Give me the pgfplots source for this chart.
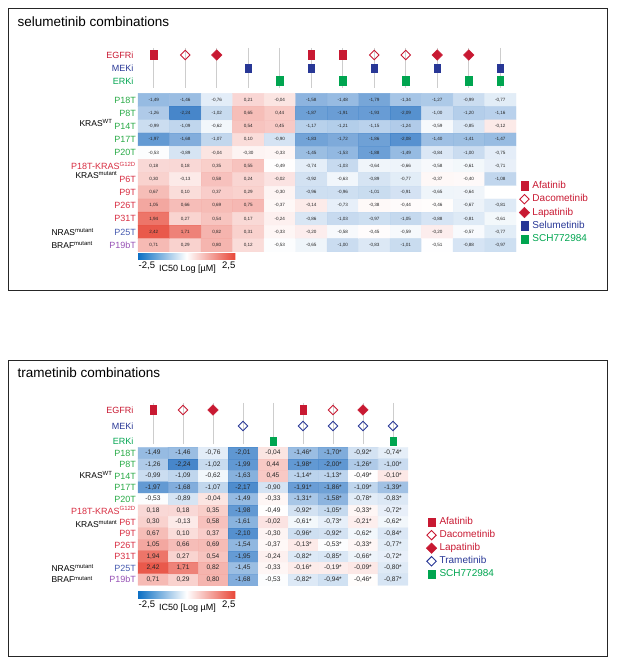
\documentclass[border=0pt]{standalone}
\usepackage{fontspec}
\setmainfont{Liberation Sans}
\usepackage{pgfplots}
\pgfplotsset{compat=1.18}
\usepackage{pgfplotstable}

\definecolor{egfr}{RGB}{200,25,50}
\definecolor{mek}{RGB}{40,55,150}
\definecolor{erk}{RGB}{0,165,80}
\definecolor{wtg}{RGB}{40,170,70}
\definecolor{mut}{RGB}{215,45,65}
\definecolor{nras}{RGB}{70,90,175}
\definecolor{braf}{RGB}{150,80,180}
\definecolor{stem}{RGB}{205,205,205}

\newcommand\fs[1]{\fontsize{#1}{#1}\selectfont}
\newcommand\wt[1]{\textcolor{wtg}{#1}}
\newcommand\mt[1]{\textcolor{mut}{#1}}

\pgfplotsset{
  colormap={ic}{rgb255(0cm)=(25,105,190); rgb255(2cm)=(255,255,255); rgb255(5cm)=(230,70,55)},
  colormap={icbar}{rgb255(0cm)=(10,110,195); rgb255(1cm)=(255,255,255); rgb255(2cm)=(232,70,55)},
  rectmark/.style={only marks, mark=square*, mark size=4.3pt, mark options={xscale=0.76, draw=#1, fill=#1}},
  opendia/.style={only marks, mark=square, mark size=3.3pt, mark options={rotate=45, draw=#1, fill=white, line width=0.9pt}},
  filldia/.style={only marks, mark=square*, mark size=3.7pt, mark options={rotate=45, draw=#1, fill=#1}},
  heatbase/.style={
    scale only axis,
    ymin=0.5, ymax=12.5, y dir=reverse, clip=false,
    axis line style={draw=none}, major tick length=0pt, xtick=\empty,
    ytick={1,...,12}, yticklabel style={font=\fs{9}, inner xsep=2pt},
    colormap name=ic, point meta min=-2.5, point meta max=2.5,
    /pgf/number format/use comma, /pgf/number format/fixed,
    /pgf/number format/fixed zerofill, /pgf/number format/precision=2,
    /pgf/number format/assume math mode=true,
    legend style={draw=none, fill=none, font=\fs{10}, inner sep=0pt,
      nodes={inner ysep=0.6pt, inner xsep=2.8pt, text height=7.2pt, text depth=2pt},
      cells={anchor=west}},
  },
}

% selumetinib panel: x = combination column, y = tumour row, v = log IC50
\pgfplotstableread[row sep=\\]{
x y v\\
1 1 -1.49\\ 2 1 -1.46\\ 3 1 -0.76\\ 4 1 0.21\\ 5 1 -0.04\\ 6 1 -1.58\\ 7 1 -1.48\\ 8 1 -1.79\\ 9 1 -1.34\\ 10 1 -1.27\\ 11 1 -0.99\\ 12 1 -0.77\\
1 2 -1.26\\ 2 2 -2.24\\ 3 2 -1.02\\ 4 2 0.65\\ 5 2 0.44\\ 6 2 -1.87\\ 7 2 -1.91\\ 8 2 -1.93\\ 9 2 -2.09\\ 10 2 -1.00\\ 11 2 -1.20\\ 12 2 -1.16\\
1 3 -0.99\\ 2 3 -1.09\\ 3 3 -0.62\\ 4 3 0.54\\ 5 3 0.45\\ 6 3 -1.17\\ 7 3 -1.21\\ 8 3 -1.15\\ 9 3 -1.24\\ 10 3 -0.59\\ 11 3 -0.85\\ 12 3 -0.12\\
1 4 -1.97\\ 2 4 -1.68\\ 3 4 -1.07\\ 4 4 0.10\\ 5 4 -0.90\\ 6 4 -1.83\\ 7 4 -1.72\\ 8 4 -1.86\\ 9 4 -2.08\\ 10 4 -1.40\\ 11 4 -1.41\\ 12 4 -1.47\\
1 5 -0.53\\ 2 5 -0.89\\ 3 5 -0.04\\ 4 5 -0.30\\ 5 5 -0.33\\ 6 5 -1.45\\ 7 5 -1.53\\ 8 5 -1.88\\ 9 5 -1.49\\ 10 5 -0.84\\ 11 5 -1.00\\ 12 5 -0.75\\
1 6 0.18\\ 2 6 0.18\\ 3 6 0.35\\ 4 6 0.55\\ 5 6 -0.49\\ 6 6 -0.74\\ 7 6 -1.03\\ 8 6 -0.64\\ 9 6 -0.66\\ 10 6 -0.58\\ 11 6 -0.61\\ 12 6 -0.71\\
1 7 0.30\\ 2 7 -0.13\\ 3 7 0.58\\ 4 7 0.24\\ 5 7 -0.02\\ 6 7 -0.92\\ 7 7 -0.63\\ 8 7 -0.89\\ 9 7 -0.77\\ 10 7 -0.37\\ 11 7 -0.40\\ 12 7 -1.08\\
1 8 0.67\\ 2 8 0.10\\ 3 8 0.37\\ 4 8 0.29\\ 5 8 -0.30\\ 6 8 -0.96\\ 7 8 -0.96\\ 8 8 -1.01\\ 9 8 -0.91\\ 10 8 -0.65\\ 11 8 -0.64\\ 12 8 -0.50\\
1 9 1.05\\ 2 9 0.66\\ 3 9 0.69\\ 4 9 0.75\\ 5 9 -0.37\\ 6 9 -0.14\\ 7 9 -0.73\\ 8 9 -0.38\\ 9 9 -0.44\\ 10 9 -0.46\\ 11 9 -0.67\\ 12 9 -0.81\\
1 10 1.94\\ 2 10 0.27\\ 3 10 0.54\\ 4 10 0.17\\ 5 10 -0.24\\ 6 10 -0.86\\ 7 10 -1.03\\ 8 10 -0.97\\ 9 10 -1.05\\ 10 10 -0.88\\ 11 10 -0.81\\ 12 10 -0.61\\
1 11 2.42\\ 2 11 1.71\\ 3 11 0.82\\ 4 11 0.31\\ 5 11 -0.33\\ 6 11 -0.20\\ 7 11 -0.58\\ 8 11 -0.45\\ 9 11 -0.59\\ 10 11 -0.20\\ 11 11 -0.57\\ 12 11 -0.77\\
1 12 0.71\\ 2 12 0.29\\ 3 12 0.80\\ 4 12 0.12\\ 5 12 -0.53\\ 6 12 -0.65\\ 7 12 -1.00\\ 8 12 -0.83\\ 9 12 -1.01\\ 10 12 -0.51\\ 11 12 -0.88\\ 12 12 -0.97\\
}\selu

% trametinib panel
\pgfplotstableread[row sep=\\]{
x y v\\
1 1 -1.49\\ 2 1 -1.46\\ 3 1 -0.76\\ 4 1 -2.01\\ 5 1 -0.04\\ 6 1 -1.46\\ 7 1 -1.70\\ 8 1 -0.92\\ 9 1 -0.74\\
1 2 -1.26\\ 2 2 -2.24\\ 3 2 -1.02\\ 4 2 -1.99\\ 5 2 0.44\\ 6 2 -1.98\\ 7 2 -2.00\\ 8 2 -1.26\\ 9 2 -1.00\\
1 3 -0.99\\ 2 3 -1.09\\ 3 3 -0.62\\ 4 3 -1.63\\ 5 3 0.45\\ 6 3 -1.14\\ 7 3 -1.13\\ 8 3 -0.49\\ 9 3 -0.10\\
1 4 -1.97\\ 2 4 -1.68\\ 3 4 -1.07\\ 4 4 -2.17\\ 5 4 -0.90\\ 6 4 -1.91\\ 7 4 -1.86\\ 8 4 -1.09\\ 9 4 -1.39\\
1 5 -0.53\\ 2 5 -0.89\\ 3 5 -0.04\\ 4 5 -1.49\\ 5 5 -0.33\\ 6 5 -1.31\\ 7 5 -1.58\\ 8 5 -0.78\\ 9 5 -0.83\\
1 6 0.18\\ 2 6 0.18\\ 3 6 0.35\\ 4 6 -1.98\\ 5 6 -0.49\\ 6 6 -0.92\\ 7 6 -1.05\\ 8 6 -0.33\\ 9 6 -0.72\\
1 7 0.30\\ 2 7 -0.13\\ 3 7 0.58\\ 4 7 -1.61\\ 5 7 -0.02\\ 6 7 -0.61\\ 7 7 -0.73\\ 8 7 -0.21\\ 9 7 -0.62\\
1 8 0.67\\ 2 8 0.10\\ 3 8 0.37\\ 4 8 -2.10\\ 5 8 -0.30\\ 6 8 -0.96\\ 7 8 -0.92\\ 8 8 -0.62\\ 9 8 -0.84\\
1 9 1.05\\ 2 9 0.66\\ 3 9 0.69\\ 4 9 -1.54\\ 5 9 -0.37\\ 6 9 -0.13\\ 7 9 -0.53\\ 8 9 -0.33\\ 9 9 -0.77\\
1 10 1.94\\ 2 10 0.27\\ 3 10 0.54\\ 4 10 -1.95\\ 5 10 -0.24\\ 6 10 -0.82\\ 7 10 -0.85\\ 8 10 -0.66\\ 9 10 -0.72\\
1 11 2.42\\ 2 11 1.71\\ 3 11 0.82\\ 4 11 -1.45\\ 5 11 -0.33\\ 6 11 -0.16\\ 7 11 -0.19\\ 8 11 -0.09\\ 9 11 -0.80\\
1 12 0.71\\ 2 12 0.29\\ 3 12 0.80\\ 4 12 -1.68\\ 5 12 -0.53\\ 6 12 -0.82\\ 7 12 -0.94\\ 8 12 -0.46\\ 9 12 -0.87\\
}\trame

\begin{document}
\begin{tikzpicture}
\useasboundingbox (0,0) rectangle (617pt,657pt);
\draw[line width=0.8pt, black!85] (8pt,367pt) rectangle (607pt,649pt);
\draw[line width=0.8pt, black!85] (8pt,1pt) rectangle (607pt,297pt);
\node[anchor=west, font=\fs{13.5}] at (14pt,635pt) {selumetinib combinations};
\node[anchor=west, font=\fs{13.5}] at (14pt,284pt) {trametinib combinations};

% ---------------- selumetinib ----------------
\begin{axis}[heatbase, name=top, at={(138pt,563.6pt)}, anchor=north west,
  width=378pt, height=158.4pt, xmin=0.5, xmax=12.5,
  yticklabels={\wt{P18T},\wt{P8T},\wt{P14T},\wt{P17T},\wt{P20T},
    \mt{P18T-KRAS\textsuperscript{G12D}},\mt{P6T},\mt{P9T},\mt{P26T},\mt{P31T},
    \textcolor{nras}{P25T},\textcolor{braf}{P19bT}},
  colorbar horizontal,
  colorbar style={name=cbt, at={(parent axis.south west)}, anchor=north west,
    xshift=-0.5pt, yshift=7.2pt, width=98pt, height=6pt, scale only axis,
    xtick=\empty, axis line style={draw=none}, colormap name=icbar},
  legend style={at={(1.008,0.45)}, anchor=north west, row sep=2.9pt},
]
\addplot[matrix plot*, mesh/cols=12, point meta=\thisrow{v}, opacity=0.92, forget plot]
  table[x=x, y=y] {\selu};
\addplot[only marks, mark=none, forget plot, point meta=\thisrow{v},
  nodes near coords, nodes near coords style={font=\fs{4.6}, anchor=center, text=black!85},
  skip coords between index={95}{96}]
  table[x=x, y=y] {\selu};
\pgfplotsinvokeforeach{1,...,12}{
  \addplot[stem, line width=0.9pt, forget plot] coordinates {(#1,-2.94) (#1,0.09)};
}
\addplot[rectmark=egfr, forget plot] coordinates {(1,-2.41) (6,-2.41) (7,-2.41)};
\addplot[opendia=egfr, forget plot] coordinates {(2,-2.41) (8,-2.41) (9,-2.41)};
\addplot[filldia=egfr, forget plot] coordinates {(3,-2.41) (10,-2.41) (11,-2.41)};
\addplot[rectmark=mek, forget plot] coordinates {(4,-1.42) (6,-1.42) (8,-1.42) (10,-1.42) (12,-1.42)};
\addplot[rectmark=erk, forget plot] coordinates {(5,-0.44) (7,-0.44) (9,-0.44) (11,-0.44) (12,-0.44)};
\addlegendimage{rectmark=egfr}\addlegendentry{\textcolor{egfr}{Afatinib}}
\addlegendimage{opendia=egfr}\addlegendentry{\textcolor{egfr}{Dacometinib}}
\addlegendimage{filldia=egfr}\addlegendentry{\textcolor{egfr}{Lapatinib}}
\addlegendimage{rectmark=mek}\addlegendentry{\textcolor{mek}{Selumetinib}}
\addlegendimage{rectmark=erk}\addlegendentry{\textcolor{erk}{SCH772984}}
\node[anchor=east, font=\fs{9}, text=egfr] at (axis cs:0.5,-2.41) [xshift=-1pt] {EGFRi};
\node[anchor=east, font=\fs{9}, text=mek] at (axis cs:0.5,-1.42) [xshift=-1pt] {MEKi};
\node[anchor=east, font=\fs{9}, text=erk] at (axis cs:0.5,-0.44) [xshift=-1pt] {ERKi};
\node[anchor=west, font=\fs{8.5}] at (axis cs:0.5,2.75) [xshift=-62pt] {KRAS\textsuperscript{WT}};
\node[anchor=west, font=\fs{8.5}] at (axis cs:0.5,6.7) [xshift=-66pt] {KRAS\textsuperscript{mutant}};
\node[anchor=west, font=\fs{8.5}] at (axis cs:0.5,11) [xshift=-90pt] {NRAS\textsuperscript{mutant}};
\node[anchor=west, font=\fs{8.5}] at (axis cs:0.5,12) [xshift=-90pt] {BRAF\textsuperscript{mutant}};
\end{axis}
\node[anchor=west, font=\fs{9.5}, inner sep=0pt] at ([xshift=1pt, yshift=-6.5pt]cbt.south west) {-2,5};
\node[anchor=east, font=\fs{9.5}, inner sep=0pt] at ([yshift=-6.5pt]cbt.south east) {2,5};
\node[font=\fs{9}, inner sep=0pt] at ([xshift=50pt, yshift=-10pt]cbt.south west) {IC50 Log [µM]};

% ---------------- trametinib ----------------
\begin{axis}[heatbase, name=bot, at={(138pt,209.75pt)}, anchor=north west,
  width=270pt, height=138pt, xmin=0.5, xmax=9.5,
  yticklabels={\wt{P18T},\wt{P8T},\wt{P14T},\wt{P17T},\wt{P20T},
    \mt{P18T-KRAS\textsuperscript{G12D}},\mt{P6T},\mt{P9T},\mt{P26T},\mt{P31T},
    \textcolor{nras}{P25T},\textcolor{braf}{P19bT}},
  colorbar horizontal,
  colorbar style={name=cbb, at={(parent axis.south west)}, anchor=north west,
    xshift=-0.5pt, yshift=2.4pt, width=98pt, height=7pt, scale only axis,
    xtick=\empty, axis line style={draw=none}, colormap name=icbar},
  legend style={at={(1.067,0.496)}, anchor=north west, row sep=2.6pt},
]
\addplot[matrix plot*, mesh/cols=9, point meta=\thisrow{v}, opacity=0.92, forget plot]
  table[x=x, y=y] {\trame};
\addplot[only marks, mark=none, forget plot, point meta=\thisrow{v},
  nodes near coords, nodes near coords style={font=\fs{6.6}, anchor=center, text=black!85},
  x filter/.expression={x<5.5 ? x : nan}]
  table[x=x, y=y] {\trame};
\addplot[only marks, mark=none, forget plot, point meta=\thisrow{v},
  nodes near coords={\pgfmathprintnumber{\pgfplotspointmeta}*},
  nodes near coords style={font=\fs{6.6}, anchor=center, text=black!85},
  x filter/.expression={x>5.5 ? x : nan}]
  table[x=x, y=y] {\trame};
\pgfplotsinvokeforeach{1,...,9}{
  \addplot[stem, line width=0.9pt, forget plot] coordinates {(#1,-3.35) (#1,0.25)};
}
\addplot[rectmark=egfr, forget plot] coordinates {(1,-2.74) (6,-2.74)};
\addplot[opendia=egfr, forget plot] coordinates {(2,-2.74) (7,-2.74)};
\addplot[filldia=egfr, forget plot] coordinates {(3,-2.74) (8,-2.74)};
\addplot[opendia=mek, forget plot] coordinates {(4,-1.35) (6,-1.35) (7,-1.35) (8,-1.35) (9,-1.35)};
\addplot[rectmark=erk, forget plot] coordinates {(5,-0.04) (9,-0.04)};
\addlegendimage{rectmark=egfr}\addlegendentry{\textcolor{egfr}{Afatinib}}
\addlegendimage{opendia=egfr}\addlegendentry{\textcolor{egfr}{Dacometinib}}
\addlegendimage{filldia=egfr}\addlegendentry{\textcolor{egfr}{Lapatinib}}
\addlegendimage{opendia=mek}\addlegendentry{\textcolor{mek}{Trametinib}}
\addlegendimage{rectmark=erk}\addlegendentry{\textcolor{erk}{SCH772984}}
\node[anchor=east, font=\fs{9}, text=egfr] at (axis cs:0.5,-2.74) [xshift=-1pt] {EGFRi};
\node[anchor=east, font=\fs{9}, text=mek] at (axis cs:0.5,-1.35) [xshift=-1pt] {MEKi};
\node[anchor=east, font=\fs{9}, text=erk] at (axis cs:0.5,-0.04) [xshift=-1pt] {ERKi};
\node[anchor=west, font=\fs{8.5}] at (axis cs:0.5,2.9) [xshift=-62pt] {KRAS\textsuperscript{WT}};
\node[anchor=west, font=\fs{8.5}] at (axis cs:0.5,7.2) [xshift=-66pt] {KRAS\textsuperscript{mutant}};
\node[anchor=west, font=\fs{8.5}] at (axis cs:0.5,11) [xshift=-90pt] {NRAS\textsuperscript{mutant}};
\node[anchor=west, font=\fs{8.5}] at (axis cs:0.5,12) [xshift=-90pt] {BRAF\textsuperscript{mutant}};
\end{axis}
\node[anchor=west, font=\fs{9.5}, inner sep=0pt] at ([xshift=1pt, yshift=-6.5pt]cbb.south west) {-2,5};
\node[anchor=east, font=\fs{9.5}, inner sep=0pt] at ([yshift=-6.5pt]cbb.south east) {2,5};
\node[font=\fs{9}, inner sep=0pt] at ([xshift=50pt, yshift=-10pt]cbb.south west) {IC50 [Log µM]};
\end{tikzpicture}
\end{document}
